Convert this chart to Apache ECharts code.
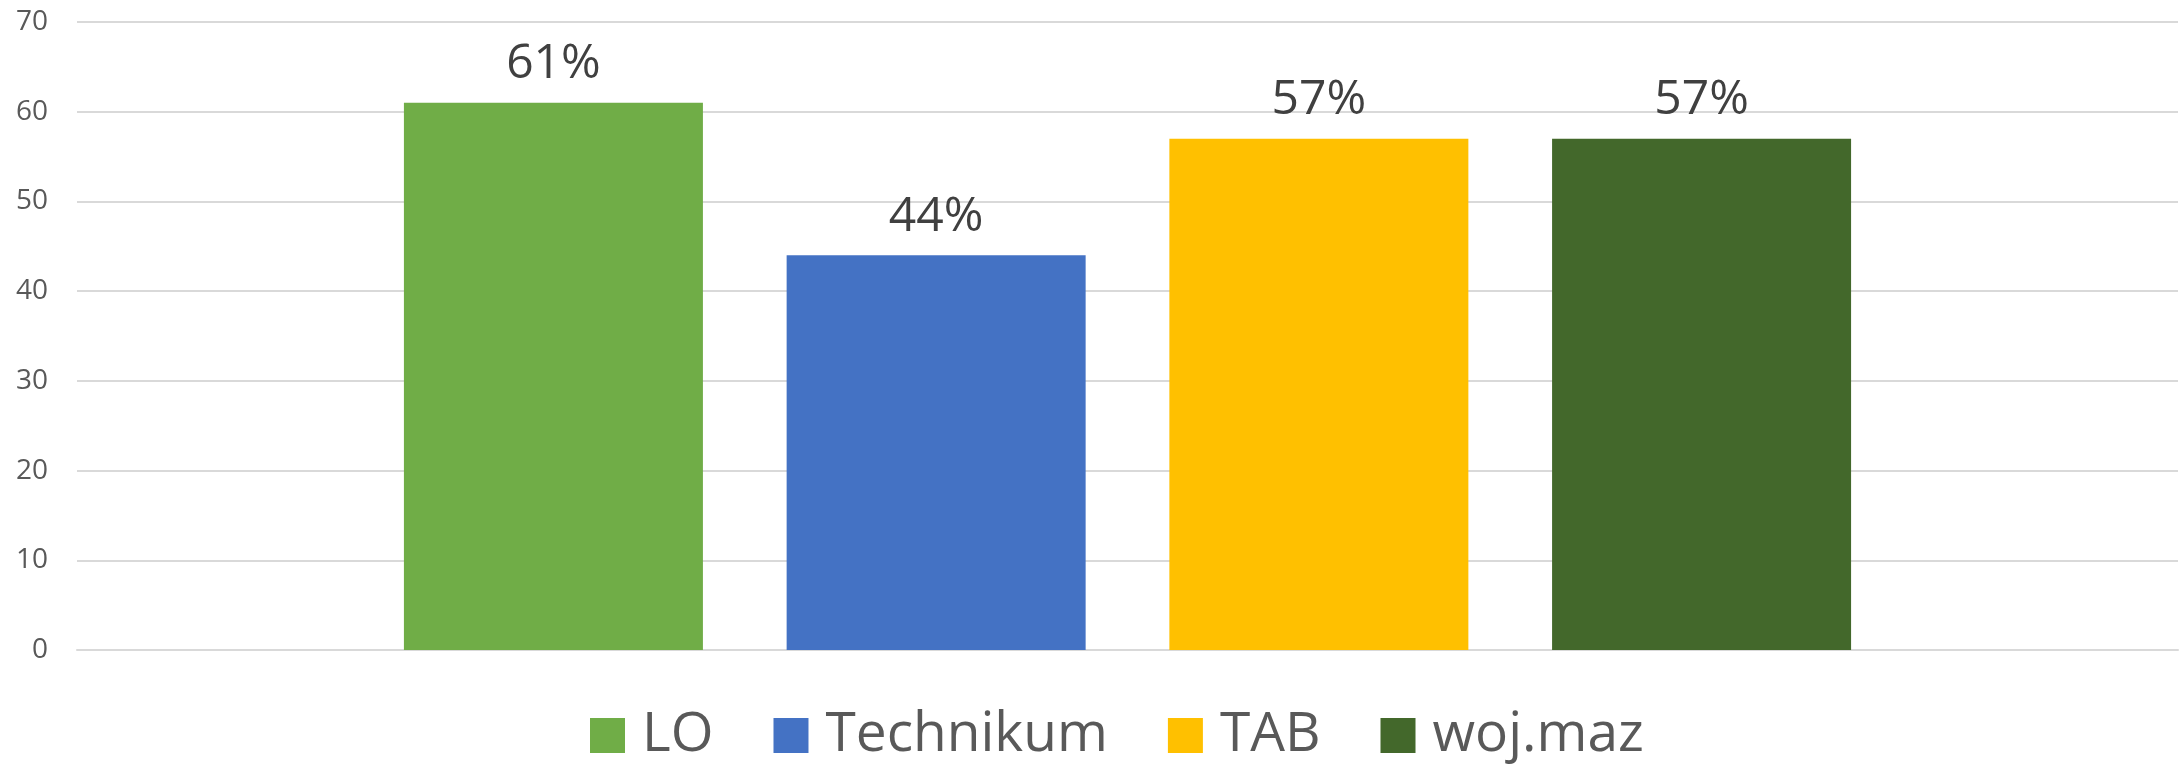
<!DOCTYPE html>
<html>
<head>
<meta charset="utf-8">
<script src="https://cdn.jsdelivr.net/npm/echarts@6/dist/echarts.min.js"></script>
<style>
  html, body { margin: 0; padding: 0; background: #fff; }
  #chart { width: 2183px; height: 765px; }
</style>
</head>
<body>
<div id="chart"></div>
<script>
// data
const seriesNames = ['LO', 'Technikum', 'TAB', 'woj.maz'];
const seriesValues = [61, 44, 57, 57];
const seriesColors = ['#70AD47', '#4472C4', '#FFC000', '#43682B'];
const yTicks = { min: 0, max: 70, interval: 10 };

const chart = echarts.init(document.getElementById('chart'));

const series = seriesNames.map((name, i) => ({
  name: name,
  type: 'bar',
  data: [seriesValues[i]],
  barWidth: 299,
  barGap: '28%',
  itemStyle: { color: seriesColors[i] },
  label: {
    show: true,
    position: 'top',
    distance: 14,
    formatter: '{c}%',
    color: '#404040',
    fontFamily: 'Open Sans',
    fontSize: 48,
  },
}));

chart.setOption({
  animation: false,
  grid: { left: 77, right: 5, top: 22, bottom: 115, containLabel: false },
  legend: {
    data: seriesNames,
    left: 585,
    top: 703,
    icon: 'rect',
    itemWidth: 35,
    itemHeight: 35,
    itemGap: 60,
    textStyle: { color: '#595959', fontFamily: 'Open Sans', fontSize: 55, padding: [0, 0, 0, 12] },
  },
  xAxis: {
    type: 'category',
    data: [''],
    axisLine: { show: true, lineStyle: { color: '#D9D9D9', width: 2 } },
    axisTick: { show: false },
    axisLabel: { show: false },
  },
  yAxis: {
    type: 'value',
    min: yTicks.min,
    max: yTicks.max,
    interval: yTicks.interval,
    axisLine: { show: false },
    axisTick: { show: false },
    splitLine: { lineStyle: { color: '#D9D9D9', width: 2 } },
    axisLabel: { color: '#595959', fontFamily: 'Open Sans', fontSize: 28, margin: 29 },
  },
  series: series,
});
</script>
</body>
</html>
